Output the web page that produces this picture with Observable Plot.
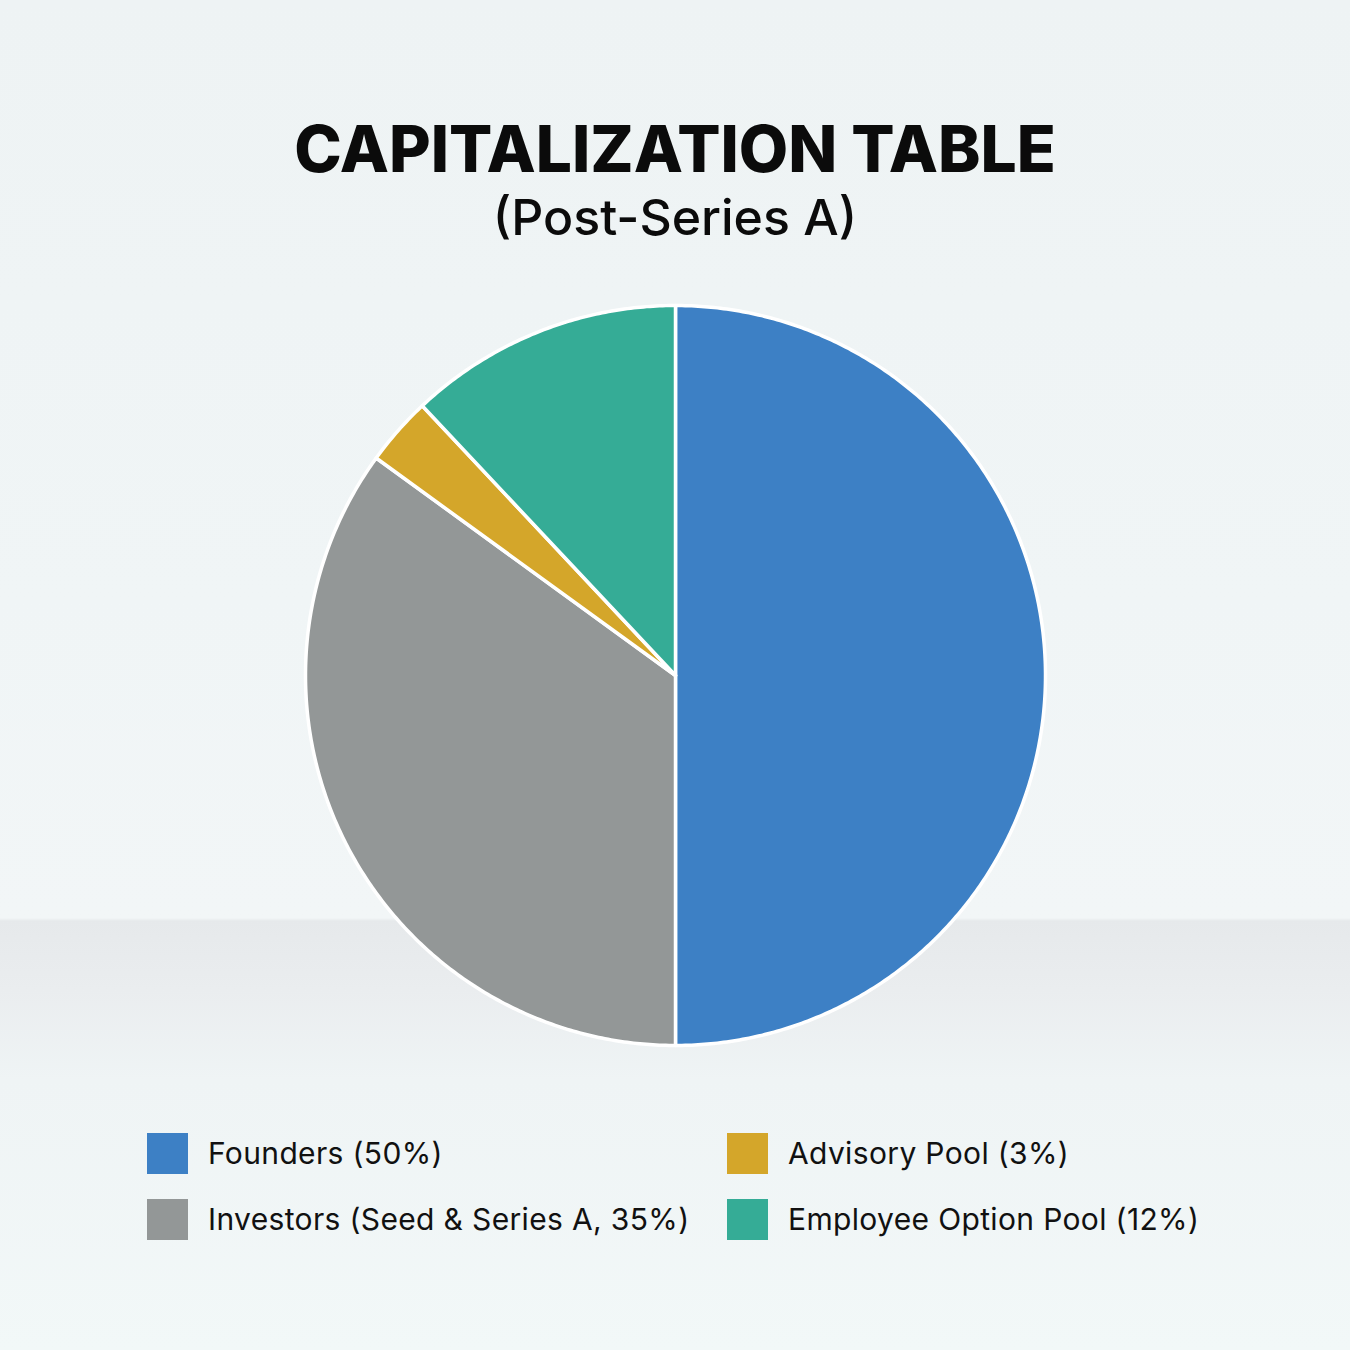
<!DOCTYPE html>
<html>
<head>
<meta charset="utf-8">
<script src="https://cdn.jsdelivr.net/npm/d3@7"></script>
<script src="https://cdn.jsdelivr.net/npm/@observablehq/plot@0.6"></script>
<style>
  html, body { margin: 0; padding: 0; }
  body {
    width: 1350px; height: 1350px; position: relative; overflow: hidden;
    font-family: Inter, "Open Sans", sans-serif;
    background: linear-gradient(to bottom, #eef3f4 0px, #f0f5f6 600px, #f2f6f7 918px, #e6e9eb 921px, #eaedef 990px, #eff4f5 1080px, #f2f8f8 1350px);
  }
  #title { position: absolute; left: 0; width: 1350px; top: 117px; text-align: center;
    font-size: 64px; font-weight: 800; color: #0b0b0b; letter-spacing: 0px; line-height: 1; }
  #subtitle { position: absolute; left: 0; width: 1350px; top: 192px; text-align: center;
    font-size: 50px; font-weight: 500; color: #0b0b0b; line-height: 1; }
  #chart { position: absolute; left: 0; top: 275px; }
  .legend-item { position: absolute; display: flex; align-items: center; height: 42px;
    font-size: 30px; color: #111; font-weight: 400; letter-spacing: 0.35px; }
  .swatch { width: 41px; height: 41px; margin-right: 20px; flex: none; }
</style>
</head>
<body>
<div id="title"></div>
<div id="subtitle"></div>
<div id="chart"></div>
<div id="legend"></div>
<script>
const title = "CAPITALIZATION TABLE";
const subtitle = "(Post-Series A)";
const categories = ["Founders", "Investors", "Advisory Pool", "Employee Option Pool"];
const shares = [50, 35, 3, 12];
const legendLabels = ["Founders (50%)", "Investors (Seed & Series A, 35%)", "Advisory Pool (3%)", "Employee Option Pool (12%)"];
const colors = ["#3d80c5", "#939797", "#d4a62a", "#35ac96"];

document.getElementById("title").textContent = title;
document.getElementById("subtitle").textContent = subtitle;

// Build slice outlines from the shares with d3.pie (clockwise from 12 o'clock)
const arcs = d3.pie().sort(null).value(d => d.share)(categories.map((c, i) => ({category: c, share: shares[i]})));
const pts = [];
for (const a of arcs) {
  const c = a.data.category;
  pts.push({category: c, x: 0, y: 0});
  const n = Math.max(8, Math.ceil((a.endAngle - a.startAngle) / (Math.PI * 2) * 720));
  for (let k = 0; k <= n; k++) {
    const t = a.startAngle + (a.endAngle - a.startAngle) * k / n;
    pts.push({category: c, x: Math.sin(t), y: Math.cos(t)});
  }
  pts.push({category: c, x: 0, y: 0});
}

const W = 1350, H = 800, R = 370;
const chart = Plot.plot({
  width: W, height: H, margin: 0,
  style: {background: "transparent", overflow: "visible"},
  x: {domain: [-(W / 2) / R, (W / 2) / R], axis: null},
  y: {domain: [-(H / 2) / R, (H / 2) / R], axis: null},
  color: {domain: categories, range: colors},
  marks: [
    Plot.line(pts, {x: "x", y: "y", z: "category", fill: "category", stroke: "white", strokeWidth: 3.5, strokeLinejoin: "round", curve: "linear"})
  ]
});
document.getElementById("chart").appendChild(chart);

// Legend (two columns, column-major as in the reference)
const legend = document.getElementById("legend");
const legendOrder = [0, 2, 1, 3];
const pos = [[147, 1132], [727, 1132], [147, 1198], [727, 1198]];
legendOrder.forEach((idx, j) => {
  const item = document.createElement("div");
  item.className = "legend-item";
  item.style.left = pos[j][0] + "px";
  item.style.top = pos[j][1] + "px";
  const sw = document.createElement("div");
  sw.className = "swatch";
  sw.style.background = colors[idx];
  const tx = document.createElement("span");
  tx.textContent = legendLabels[idx];
  item.appendChild(sw); item.appendChild(tx);
  legend.appendChild(item);
});
</script>
</body>
</html>
